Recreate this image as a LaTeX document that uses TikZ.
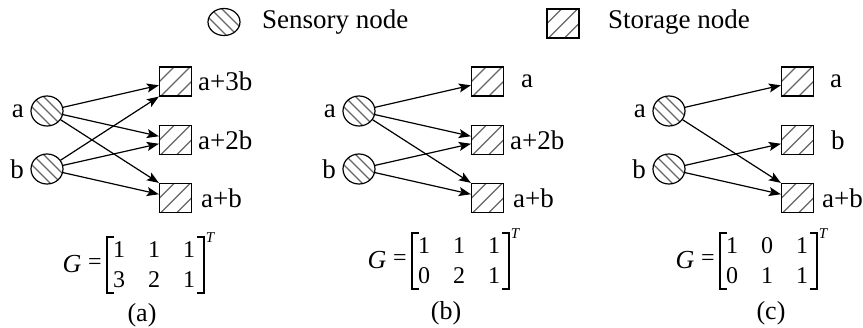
\documentclass[tikz,border=0pt]{standalone}
\usepackage{fontspec}
\setmainfont{Liberation Serif}
\usetikzlibrary{shapes.geometric,arrows.meta}
\tikzset{
  hatch/.style={draw=black!60,line width=1.1pt},
  sens/.style={ellipse,draw,line width=1.2pt,minimum width=32pt,minimum height=30pt,inner sep=0pt,
    path picture={\foreach \d in {-11,0,11}{\draw[hatch] ([xshift=\d pt]path picture bounding box.center) ++(-20pt,20pt) -- ++(40pt,-40pt);}}},
  stor/.style={rectangle,draw,line width=1.2pt,minimum width=32pt,minimum height=29pt,inner sep=0pt,
    path picture={\foreach \d in {-16,0,16}{\draw[hatch] ([xshift=\d pt]path picture bounding box.center) ++(-20pt,-20pt) -- ++(40pt,40pt);}}},
  lbl/.style={font=\fontsize{27}{29}\selectfont,inner sep=0pt},
  captxt/.style={font=\fontsize{26}{28}\selectfont,inner sep=0pt},
  num/.style={font=\fontsize{24}{26}\selectfont,inner sep=0pt},
  gsym/.style={font=\fontsize{26}{28}\selectfont\itshape,inner sep=0pt},
  tsym/.style={font=\fontsize{15}{17}\selectfont\itshape,inner sep=0pt},
  arr/.style={line width=1.2pt,-{Stealth[length=12pt,width=9pt,inset=2.5pt]}},
  brk/.style={line width=1.3pt},
}
\begin{document}
\begin{tikzpicture}[x=1pt,y=-1pt]
\useasboundingbox (0,0) rectangle (863,327);
% legend
\node[sens,minimum height=27pt] (ls) at (224,22) {};
\node[lbl,anchor=west] (lst) at (262,22) {Sensory node};
\node[stor] (lt) at (563,23.5) {};
\node[lbl,anchor=west] (ltt) at (608,22) {Storage node};

% panel (a)
\begin{scope}
\node[sens] (a1) at (47,111) {};
\node[sens] (b1) at (47,169) {};
\node[lbl,anchor=east] (la1) at (24,111) {a};
\node[lbl,anchor=east] (lb1) at (24,169) {b};
\node[stor] (s11) at (175.5,81.5) {};
\node[stor] (s12) at (175.5,140) {};
\node[stor] (s13) at (175.5,198) {};
\node[lbl,anchor=west] (t11) at (198,81.5) {a+3b};
\node[lbl,anchor=west] (t12) at (198,140) {a+2b};
\node[lbl,anchor=west] (t13) at (201,198) {a+b};
\draw[arr] (a1) -- (s11);
\draw[arr] (a1) -- (s12);
\draw[arr] (a1) -- (s13.north west);
\draw[arr] (b1) -- (s11.south west);
\draw[arr] (b1) -- (s12);
\draw[arr] (b1) -- (s13);
\end{scope}
\begin{scope}
\node[gsym] (g1) at (72,264) {G};
\node[num] (e1) at (95,264) {=};
\draw[brk] (114,237) -- (107,237) -- (107,293) -- (114,293);
\draw[brk] (197,237) -- (204,237) -- (204,293) -- (197,293);
\node[num] (m111) at (119,250) {1};
\node[num] (m112) at (154,250) {1};
\node[num] (m113) at (189,250) {1};
\node[num] (m121) at (119,280) {3};
\node[num] (m122) at (154,280) {2};
\node[num] (m123) at (189,280) {1};
\node[tsym] (tt1) at (210,238) {T};
\node[captxt] (c1) at (142,315) {(a)};
\end{scope}

% panel (b)
\begin{scope}[shift={(312,0)}]
\node[sens] (a2) at (47,111) {};
\node[sens] (b2) at (47,169) {};
\node[lbl,anchor=east] (la2) at (24,111) {a};
\node[lbl,anchor=east] (lb2) at (24,169) {b};
\node[stor] (s21) at (175.5,81.5) {};
\node[stor] (s22) at (175.5,140) {};
\node[stor] (s23) at (175.5,198) {};
\node[lbl,anchor=west] (t21) at (209,81.5) {a};
\node[lbl,anchor=west] (t22) at (198,140) {a+2b};
\node[lbl,anchor=west] (t23) at (201,198) {a+b};
\draw[arr] (a2) -- (s21);
\draw[arr] (a2) -- (s22);
\draw[arr] (a2) -- (s23.north west);
\draw[arr] (b2) -- (s22);
\draw[arr] (b2) -- (s23);
\end{scope}
\begin{scope}[shift={(305,-4)}]
\node[gsym] (g2) at (72,264) {G};
\node[num] (e2) at (95,264) {=};
\draw[brk] (114,237) -- (107,237) -- (107,293) -- (114,293);
\draw[brk] (197,237) -- (204,237) -- (204,293) -- (197,293);
\node[num] (m211) at (119,250) {1};
\node[num] (m212) at (154,250) {1};
\node[num] (m213) at (189,250) {1};
\node[num] (m221) at (119,280) {0};
\node[num] (m222) at (154,280) {2};
\node[num] (m223) at (189,280) {1};
\node[tsym] (tt2) at (210,238) {T};
\end{scope}
\node[captxt] (c2) at (446,313) {(b)};

% panel (c)
\begin{scope}[shift={(622,0)}]
\node[sens] (a3) at (47,111) {};
\node[sens] (b3) at (47,169) {};
\node[lbl,anchor=east] (la3) at (24,111) {a};
\node[lbl,anchor=east] (lb3) at (24,169) {b};
\node[stor] (s31) at (175.5,81.5) {};
\node[stor] (s32) at (175.5,140) {};
\node[stor] (s33) at (175.5,198) {};
\node[lbl,anchor=west] (t31) at (208,81.5) {a};
\node[lbl,anchor=west] (t32) at (209,140) {b};
\node[lbl,anchor=west] (t33) at (200,198) {a+b};
\draw[arr] (a3) -- (s31);
\draw[arr] (a3) -- (s33.north west);
\draw[arr] (b3) -- (s32);
\draw[arr] (b3) -- (s33);
\end{scope}
\begin{scope}[shift={(613,-4)}]
\node[gsym] (g3) at (72,264) {G};
\node[num] (e3) at (95,264) {=};
\draw[brk] (114,237) -- (107,237) -- (107,293) -- (114,293);
\draw[brk] (197,237) -- (204,237) -- (204,293) -- (197,293);
\node[num] (m311) at (119,250) {1};
\node[num] (m312) at (154,250) {0};
\node[num] (m313) at (189,250) {1};
\node[num] (m321) at (119,280) {0};
\node[num] (m322) at (154,280) {1};
\node[num] (m323) at (189,280) {1};
\node[tsym] (tt3) at (210,238) {T};
\end{scope}
\node[captxt] (c3) at (771,313) {(c)};
\end{tikzpicture}
\end{document}
